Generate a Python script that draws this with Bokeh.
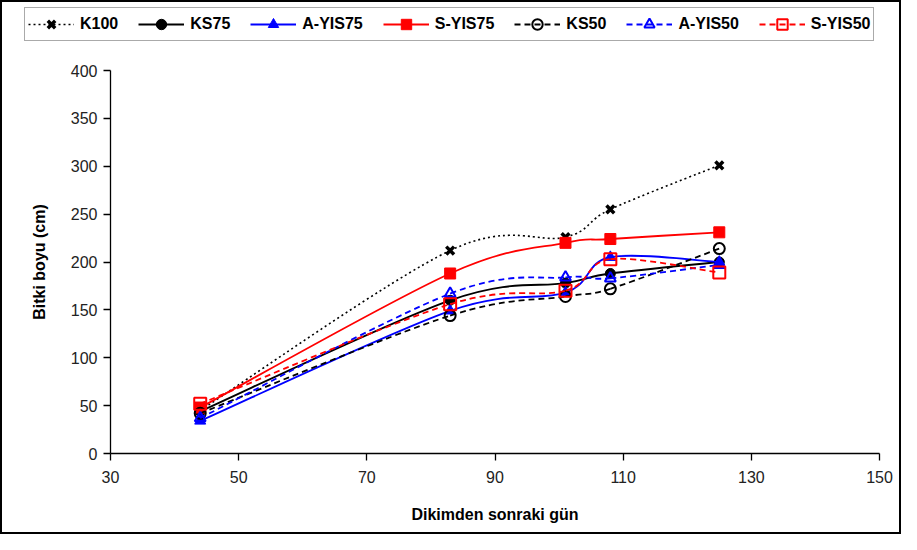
from bokeh.plotting import figure
from bokeh.layouts import column
from bokeh.models import Range1d, FixedTicker, Legend, LegendItem, ColumnDataSource
from bokeh.embed import file_html
from bokeh.resources import INLINE

days = [44, 83, 101, 108, 125]
k100 = [45, 212, 226, 255, 301]
ks75 = [44, 160, 178, 188, 200]
ayis75 = [34, 149, 168, 205, 200]
syis75 = [48, 188, 220, 224, 231]
ks50 = [42, 144, 164, 172, 214]
ayis50 = [37, 167, 184, 183, 197]
syis50 = [52, 156, 170, 203, 189]

x_ticks = [30, 50, 70, 90, 110, 130, 150]
y_ticks = [0, 50, 100, 150, 200, 250, 300, 350, 400]

FONT = "Liberation Sans"
BLUE = "#0000ff"
RED = "#ff0000"
BLACK = "#000000"

series = [
    ("K100", k100, BLACK, "dotted", "x", True),
    ("KS75", ks75, BLACK, "solid", "circle", True),
    ("A-YIS75", ayis75, BLUE, "solid", "triangle", True),
    ("S-YIS75", syis75, RED, "solid", "square", True),
    ("KS50", ks50, BLACK, "dashed", "circle", False),
    ("A-YIS50", ayis50, BLUE, "dashed", "triangle", False),
    ("S-YIS50", syis50, RED, "dashed", "square", False),
]

p = figure(width=901, height=472, output_backend="svg", toolbar_location=None,
           x_range=Range1d(30, 150), y_range=Range1d(0, 400),
           min_border_left=110, min_border_right=22, min_border_top=8, min_border_bottom=81)
p.frame_align = False
p.outline_line_color = None
p.xgrid.visible = False
p.ygrid.visible = False
p.border_fill_alpha = 0
p.background_fill_alpha = 0

lf = figure(width=901, height=62, output_backend="svg", toolbar_location=None,
            x_range=Range1d(30, 150), y_range=Range1d(0, 400),
            x_axis_location=None, y_axis_location=None,
            min_border_left=0, min_border_right=0, min_border_top=0, min_border_bottom=0)
lf.frame_align = False
lf.outline_line_color = None
lf.xgrid.visible = False
lf.ygrid.visible = False
lf.border_fill_alpha = 0
lf.background_fill_alpha = 0

for ax, ticks in ((p.xaxis, x_ticks), (p.yaxis, y_ticks)):
    ax.ticker = FixedTicker(ticks=ticks)
    ax.minor_tick_line_color = None
    ax.major_tick_in = 0
    ax.major_tick_out = 7
    ax.axis_line_color = BLACK
    ax.axis_line_width = 1.3
    ax.major_tick_line_color = BLACK
    ax.major_tick_line_width = 1.3
    ax.major_label_text_font = FONT
    ax.major_label_text_font_size = "16px"
    ax.major_label_text_color = "#222222"
    ax.axis_label_text_font = FONT
    ax.axis_label_text_font_size = "16px"
    ax.axis_label_text_font_style = "bold"
    ax.axis_label_text_color = BLACK

p.xaxis.axis_label = "Dikimden sonraki gün"
p.yaxis.axis_label = "Bitki boyu (cm)"
p.xaxis.major_label_standoff = 10
p.yaxis.major_label_standoff = 6
p.xaxis.axis_label_standoff = 20
p.yaxis.axis_label_standoff = 20


def bezier_source(xs, ys, t=1.0 / 6.0):
    n = len(xs)
    d = dict(x0=[], y0=[], x1=[], y1=[], cx0=[], cy0=[], cx1=[], cy1=[])
    for i in range(n - 1):
        im1 = max(i - 1, 0)
        ip2 = min(i + 2, n - 1)
        d["x0"].append(xs[i]); d["y0"].append(ys[i])
        d["x1"].append(xs[i + 1]); d["y1"].append(ys[i + 1])
        d["cx0"].append(xs[i] + (xs[i + 1] - xs[im1]) * t)
        d["cy0"].append(ys[i] + (ys[i + 1] - ys[im1]) * t)
        d["cx1"].append(xs[i + 1] - (xs[ip2] - xs[i]) * t)
        d["cy1"].append(ys[i + 1] - (ys[ip2] - ys[i]) * t)
    return ColumnDataSource(d)


def add_series(fig, name, vals, color, dash, marker, filled, src, visible=True):
    lw = 1.6 if dash == "dotted" else 1.8
    dash_str = "2 3" if dash == "dotted" else ("6 4" if dash == "dashed" else "solid")
    br = fig.bezier(x0="x0", y0="y0", x1="x1", y1="y1", cx0="cx0", cy0="cy0",
                    cx1="cx1", cy1="cy1", source=src, line_color=color,
                    line_width=lw, line_dash=dash_str, visible=visible)
    if marker == "x":
        sr = fig.scatter(days, vals, marker="x", size=11, line_color=color,
                         line_width=3.5, visible=visible)
    elif filled:
        sz = 10 if marker == "circle" else 11
        sr = fig.scatter(days, vals, marker=marker, size=sz, line_color=color,
                         fill_color=color, line_width=1, visible=visible)
    else:
        sz = 11 if marker != "square" else 12
        sr = fig.scatter(days, vals, marker=marker, size=sz, line_color=color,
                         fill_alpha=0, line_width=2, visible=visible)
    return br, sr


items = []
for name, vals, color, dash, marker, filled in series:
    src = bezier_source(days, vals)
    add_series(p, name, vals, color, dash, marker, filled, src)
    br, sr = add_series(lf, name, vals, color, dash, marker, filled, src, visible=False)
    items.append(LegendItem(label=name, renderers=[br, sr]))

legend = Legend(items=items, orientation="horizontal", location=(24, 21),
                glyph_width=46, glyph_height=26, label_standoff=6, spacing=20,
                padding=3, margin=0,
                label_text_font=FONT, label_text_font_size="16px",
                label_text_font_style="bold", label_text_color=BLACK,
                border_line_color="#555555", border_line_width=1.2,
                background_fill_color="white", background_fill_alpha=1,
                inactive_fill_alpha=0)
lf.add_layout(legend, "center")

layout = column(lf, p, spacing=0)
layout.styles = {"box-shadow": "inset 0 0 0 2px black", "background-color": "white"}

open("out.html", "w").write(file_html(layout, INLINE))
